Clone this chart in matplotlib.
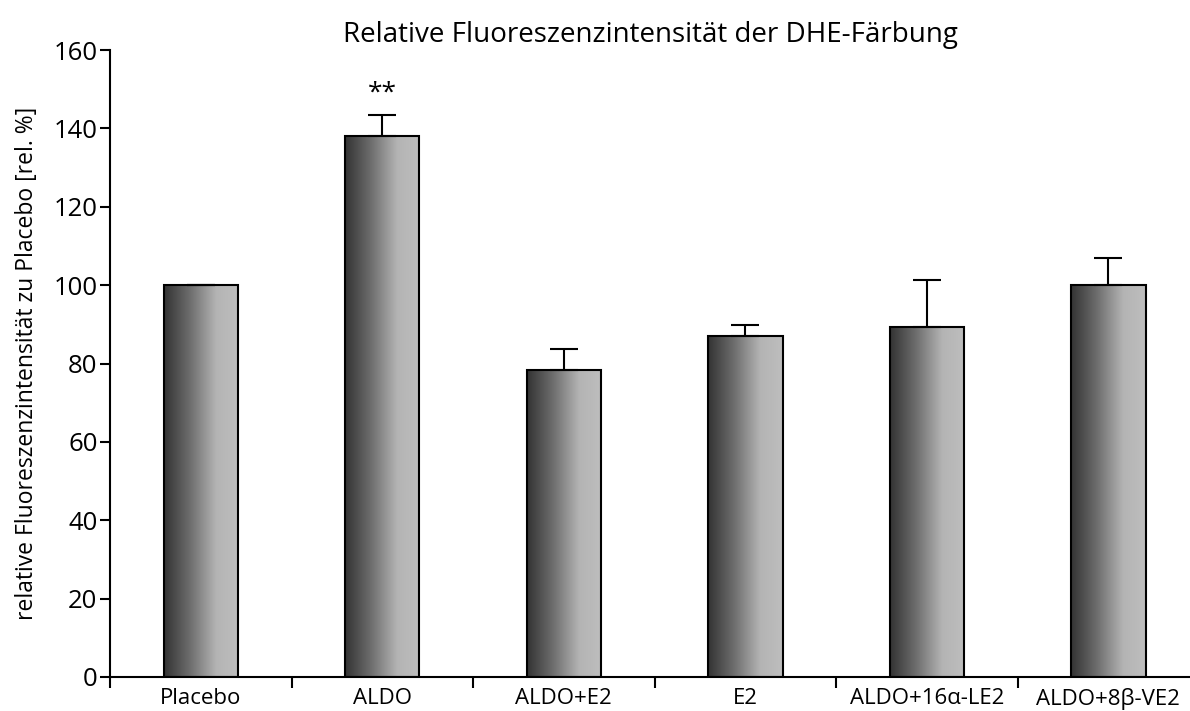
import numpy as np
import matplotlib.pyplot as plt
from matplotlib.patches import Rectangle
from matplotlib.colors import LinearSegmentedColormap

plt.rcParams['font.family'] = ['Open Sans', 'DejaVu Sans']

groups = ['Placebo', 'ALDO', 'ALDO+E2', 'E2', 'ALDO+16α-LE2', 'ALDO+8β-VE2']
means  = [100, 138, 78.3, 87, 89.3, 100]
errs   = [0, 5.4, 5.4, 2.8, 12.0, 6.9]
stars  = ['', '**', '', '', '', '']

fig = plt.figure(figsize=(11.9, 7.11), dpi=100)
ax = fig.add_axes([110 / 1190, 1 - 677 / 711, 1 - 110 / 1190, (677 - 50) / 711])

x = np.arange(len(groups))
width = 0.41

# gradient dark -> light, flattening on the right
grad_cmap = LinearSegmentedColormap.from_list(
    'bar', [(0, '#333333'), (0.35, '#6e6e6e'), (0.7, '#b4b4b4'), (1.0, '#bebebe')])
grad = np.linspace(0, 1, 256).reshape(1, -1)

for xi, m in zip(x, means):
    x0 = xi - width / 2
    im = ax.imshow(grad, cmap=grad_cmap, aspect='auto', extent=(x0, x0 + width, 0, m),
                   zorder=2, interpolation='bicubic')
    rect = Rectangle((x0, 0), width, m, facecolor='none', edgecolor='black',
                     linewidth=1.5, zorder=3)
    ax.add_patch(rect)
    im.set_clip_path(rect)

ax.errorbar(x, means, yerr=[np.zeros(len(errs)), errs], fmt='none', ecolor='black',
            elinewidth=1.5, capsize=10, capthick=1.5, zorder=4)

for xi, m, e, s in zip(x, means, errs, stars):
    if s:
        ax.text(xi, m + e + 2.5, s, ha='center', va='bottom', fontsize=19)

ax.set_xlim(-0.5, 5.45)
ax.set_ylim(0, 160)
ax.set_yticks(range(0, 161, 20))
ax.set_xticks(x)
ax.set_xticklabels(groups, fontsize=16)
ax.set_xticks(np.arange(-0.5, 5.5, 1), minor=True)
ax.tick_params(axis='x', which='major', length=0, pad=8)
ax.tick_params(axis='x', which='minor', length=8, width=1.5, direction='out')
ax.tick_params(axis='y', length=7, width=1.5, labelsize=18.5, pad=2)

ax.spines['top'].set_visible(False)
ax.spines['right'].set_visible(False)
ax.spines['left'].set_linewidth(1.5)
ax.spines['bottom'].set_linewidth(1.5)

ax.set_ylabel('relative Fluoreszenzintensität zu Placebo [rel. %]', fontsize=16.5, labelpad=10)
ax.set_title('Relative Fluoreszenzintensität der DHE-Färbung', fontsize=20, pad=6)

fig.savefig('out.png', dpi=100)
